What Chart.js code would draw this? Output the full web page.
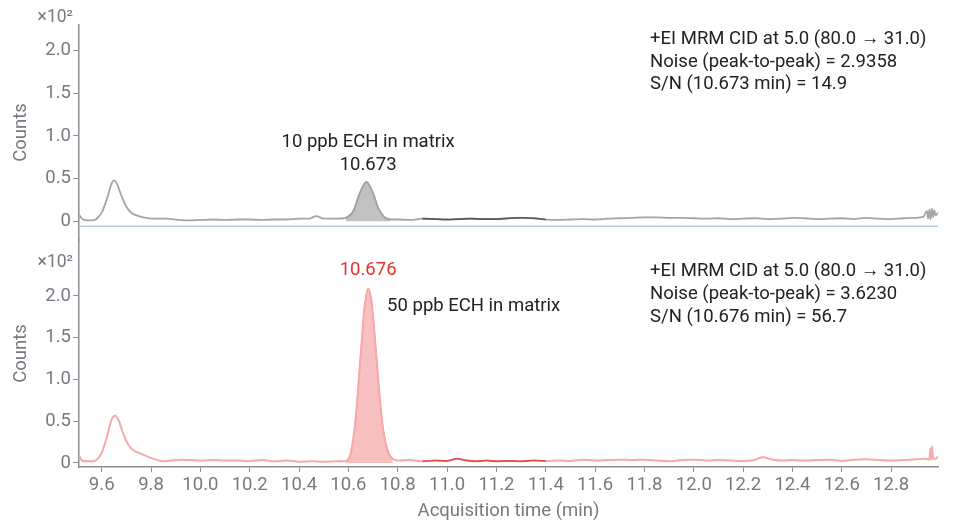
<!DOCTYPE html>
<html>
<head>
<meta charset="utf-8">
<script src="https://cdn.jsdelivr.net/npm/chart.js@4.4.1/dist/chart.umd.min.js"></script>
<style>
  html, body { margin: 0; padding: 0; background: #fff; }
  #wrap { position: relative; width: 953px; height: 525px; }
</style>
</head>
<body>
<div id="wrap"><canvas id="chrom" width="953" height="525"></canvas></div>
<script>
// acquisition time (min) and counts (x10^2), upper trace: 10 ppb ECH in matrix
const timesTop = [
  9.51, 9.52, 9.54, 9.56, 9.58, 9.60, 9.62, 9.64, 9.65, 9.66, 9.68, 9.70, 9.72, 9.75, 9.78,
  9.82, 9.86, 9.90, 9.95, 10.00, 10.05, 10.10, 10.15, 10.20, 10.25, 10.30, 10.35, 10.40, 10.44,
  10.47, 10.50, 10.55, 10.59, 10.62, 10.645, 10.673, 10.70, 10.72, 10.745, 10.77, 10.80, 10.85,
  10.90, 10.95, 11.00, 11.05, 11.10, 11.15, 11.20, 11.25, 11.30, 11.35, 11.40, 11.45, 11.50,
  11.55, 11.60, 11.65, 11.70, 11.75, 11.80, 11.85, 11.90, 11.95, 12.00, 12.05, 12.10, 12.15,
  12.20, 12.25, 12.30, 12.35, 12.40, 12.45, 12.50, 12.55, 12.60, 12.65, 12.70, 12.75, 12.80,
  12.85, 12.90, 12.93, 12.945, 12.95, 12.955, 12.96, 12.965, 12.97, 12.975, 12.98, 12.99
];
const countsTop = [
  0.07, 0.03, 0.01, 0.01, 0.03, 0.10, 0.25, 0.44, 0.48, 0.45, 0.30, 0.17, 0.10, 0.06, 0.04,
  0.03, 0.03, 0.02, 0.01, 0.015, 0.02, 0.015, 0.02, 0.02, 0.015, 0.02, 0.02, 0.03, 0.03,
  0.06, 0.03, 0.03, 0.04, 0.12, 0.32, 0.46, 0.33, 0.16, 0.05, 0.02, 0.02, 0.015,
  0.03, 0.025, 0.02, 0.025, 0.03, 0.025, 0.025, 0.035, 0.04, 0.035, 0.02, 0.015, 0.02,
  0.025, 0.02, 0.03, 0.035, 0.04, 0.045, 0.045, 0.04, 0.04, 0.035, 0.03, 0.035, 0.025,
  0.03, 0.035, 0.025, 0.03, 0.04, 0.035, 0.025, 0.03, 0.035, 0.025, 0.04, 0.03, 0.025,
  0.035, 0.04, 0.05, 0.12, 0.03, 0.14, 0.02, 0.15, 0.05, 0.13, 0.07, 0.10
];

// lower trace: 50 ppb ECH in matrix
const timesBot = [
  9.51, 9.52, 9.54, 9.56, 9.58, 9.60, 9.62, 9.64, 9.655, 9.67, 9.69, 9.71, 9.73, 9.76, 9.79,
  9.82, 9.85, 9.88, 9.92, 9.96, 10.00, 10.05, 10.10, 10.15, 10.20, 10.25, 10.30, 10.35, 10.40,
  10.45, 10.50, 10.55, 10.59, 10.61, 10.63, 10.65, 10.665, 10.68, 10.695, 10.71, 10.725, 10.74,
  10.76, 10.78, 10.80, 10.85, 10.90, 10.95, 11.00, 11.04, 11.08, 11.12, 11.16, 11.20, 11.25,
  11.30, 11.35, 11.40, 11.45, 11.50, 11.55, 11.60, 11.65, 11.70, 11.75, 11.80, 11.85, 11.90,
  11.95, 12.00, 12.05, 12.10, 12.15, 12.20, 12.25, 12.28, 12.32, 12.36, 12.40, 12.45, 12.50,
  12.55, 12.60, 12.65, 12.70, 12.75, 12.80, 12.85, 12.90, 12.94, 12.955, 12.96, 12.963, 12.966,
  12.97, 12.98, 12.99
];
const countsBot = [
  0.08, 0.03, 0.02, 0.02, 0.04, 0.12, 0.30, 0.52, 0.57, 0.50, 0.33, 0.21, 0.15, 0.11, 0.07,
  0.04, 0.02, 0.03, 0.04, 0.035, 0.03, 0.035, 0.03, 0.03, 0.025, 0.035, 0.02, 0.03, 0.015,
  0.02, 0.015, 0.02, 0.02, 0.12, 0.55, 1.30, 1.85, 2.09, 1.90, 1.40, 0.85, 0.42,
  0.14, 0.05, 0.03, 0.035, 0.02, 0.03, 0.025, 0.05, 0.03, 0.02, 0.03, 0.02, 0.025,
  0.02, 0.03, 0.025, 0.03, 0.025, 0.04, 0.03, 0.035, 0.04, 0.035, 0.04, 0.03, 0.02,
  0.035, 0.04, 0.03, 0.035, 0.03, 0.025, 0.04, 0.07, 0.04, 0.03, 0.035, 0.03, 0.035,
  0.04, 0.025, 0.04, 0.045, 0.035, 0.03, 0.035, 0.045, 0.05, 0.04, 0.18, 0.04, 0.20,
  0.05, 0.05, 0.08
];

const xTicks = [9.6, 9.8, 10.0, 10.2, 10.4, 10.6, 10.8, 11.0, 11.2, 11.4, 11.6, 11.8,
  12.0, 12.2, 12.4, 12.6, 12.8];
const yTicks = [0, 0.5, 1.0, 1.5, 2.0];
const yTickLabels = ["0", "0.5", "1.0", "1.5", "2.0"];

const peakTimes = [10.673, 10.676];
const peakWindow = [10.59, 10.78];
const noiseWindow = [10.9, 11.4];
const sampleNames = ["10 ppb ECH in matrix", "50 ppb ECH in matrix"];
const infoTop = ["+EI MRM CID at 5.0 (80.0 \u2192 31.0)", "Noise (peak-to-peak) = 2.9358",
  "S/N (10.673 min) = 14.9"];
const infoBot = ["+EI MRM CID at 5.0 (80.0 \u2192 31.0)", "Noise (peak-to-peak) = 3.6230",
  "S/N (10.676 min) = 56.7"];
const baselineTop = -0.06;

const TICK_COLOR = "#767a80";
const AXIS_COLOR = "#8a8e94";
const FONT_SIZE = 18.5;

function toPoints(times, vals, lo, hi) {
  const pts = [];
  for (let i = 0; i < times.length; i++) {
    if (lo === undefined || (times[i] >= lo && times[i] <= hi)) {
      pts.push({ x: times[i], y: vals[i] });
    }
  }
  return pts;
}

function yAxis(min, max, weight) {
  return {
    type: "linear",
    position: "left",
    stack: "panels",
    stackWeight: weight,
    min: min,
    max: max,
    afterFit: function (scale) { scale.width = 79; },
    afterBuildTicks: function (scale) {
      scale.ticks = yTicks.map(function (v) { return { value: v }; });
    },
    ticks: {
      color: TICK_COLOR,
      font: { family: "Roboto", size: FONT_SIZE },
      padding: 2,
      callback: function (value) {
        const i = yTicks.indexOf(value);
        return i >= 0 ? yTickLabels[i] : "";
      },
    },
    grid: {
      drawOnChartArea: false,
      drawTicks: true,
      tickLength: 6,
      color: AXIS_COLOR,
    },
    border: { color: AXIS_COLOR, width: 1.5 },
    title: {
      display: true,
      text: "Counts",
      color: TICK_COLOR,
      font: { family: "Roboto", size: FONT_SIZE },
      padding: { top: 10, bottom: 0 },
    },
  };
}

// text labels drawn on top of the traces
const labelPlugin = {
  id: "chromLabels",
  afterDatasetsDraw: function (chart) {
    const ctx = chart.ctx;
    const x = chart.scales.x;
    const yT = chart.scales.yTop;
    const yB = chart.scales.yBot;
    ctx.save();
    ctx.textBaseline = "middle";

    // exponent labels
    ctx.fillStyle = TICK_COLOR;
    ctx.textAlign = "right";
    ctx.font = "17.5px Roboto";
    ctx.fillText("\u00d710\u00b2", 73, yT.top - 7);
    ctx.fillText("\u00d710\u00b2", 73, yB.getPixelForValue(2.4));

    // acquisition info blocks
    ctx.fillStyle = "#222";
    ctx.textAlign = "left";
    ctx.font = FONT_SIZE + "px Roboto";
    const infoX = x.getPixelForValue(11.823);
    infoTop.forEach(function (t, i) {
      ctx.fillText(t, infoX, yT.getPixelForValue(2.13) + i * 22.5);
    });
    infoBot.forEach(function (t, i) {
      ctx.fillText(t, infoX, yB.getPixelForValue(2.29) + i * 23);
    });

    // peak labels
    ctx.textAlign = "center";
    ctx.fillText(sampleNames[0], x.getPixelForValue(10.68), yT.getPixelForValue(0.93));
    ctx.fillText(peakTimes[0].toFixed(3), x.getPixelForValue(10.68), yT.getPixelForValue(0.65));
    ctx.fillStyle = "#e8312f";
    ctx.fillText(peakTimes[1].toFixed(3), x.getPixelForValue(10.68), yB.getPixelForValue(2.31));
    ctx.fillStyle = "#222";
    ctx.textAlign = "left";
    ctx.fillText(sampleNames[1], x.getPixelForValue(10.757), yB.getPixelForValue(1.87));
    ctx.restore();
  },
};

const lineBase = {
  pointRadius: 0,
  cubicInterpolationMode: "monotone",
  fill: false,
};

new Chart(document.getElementById("chrom"), {
  type: "line",
  data: {
    datasets: [
      Object.assign({}, lineBase, {
        label: "noise top",
        data: toPoints(timesTop, countsTop, noiseWindow[0], noiseWindow[1]),
        borderColor: "#55575a",
        borderWidth: 1.6,
        yAxisID: "yTop",
        order: 0,
      }),
      Object.assign({}, lineBase, {
        label: "peak top",
        data: toPoints(timesTop, countsTop, peakWindow[0], peakWindow[1]),
        borderColor: "#727476",
        backgroundColor: "rgba(150,152,155,0.6)",
        borderWidth: 1.2,
        fill: "origin",
        yAxisID: "yTop",
        order: 2,
      }),
      Object.assign({}, lineBase, {
        label: sampleNames[0],
        data: toPoints(timesTop, countsTop),
        borderColor: "#a3a5a8",
        borderWidth: 1.8,
        yAxisID: "yTop",
        order: 1,
      }),
      Object.assign({}, lineBase, {
        label: "baseline",
        data: [{ x: 9.508, y: baselineTop }, { x: 12.99, y: baselineTop }],
        borderColor: "#b4c9ea",
        borderWidth: 1.5,
        cubicInterpolationMode: "default",
        tension: 0,
        yAxisID: "yTop",
        order: 3,
      }),
      Object.assign({}, lineBase, {
        label: "noise bottom",
        data: toPoints(timesBot, countsBot, noiseWindow[0], noiseWindow[1]),
        borderColor: "#e6474a",
        borderWidth: 1.6,
        yAxisID: "yBot",
        order: 0,
      }),
      Object.assign({}, lineBase, {
        label: "peak bottom",
        data: toPoints(timesBot, countsBot, peakWindow[0], peakWindow[1]),
        borderColor: "#f07a7c",
        backgroundColor: "rgba(242,140,142,0.55)",
        borderWidth: 1.2,
        fill: "origin",
        yAxisID: "yBot",
        order: 2,
      }),
      Object.assign({}, lineBase, {
        label: sampleNames[1],
        data: toPoints(timesBot, countsBot),
        borderColor: "#f7a9ab",
        borderWidth: 2,
        yAxisID: "yBot",
        order: 1,
      }),
    ],
  },
  options: {
    responsive: false,
    animation: false,
    events: [],
    layout: { padding: { top: 25, right: 15, bottom: 0, left: 0 } },
    plugins: {
      legend: { display: false },
      tooltip: { enabled: false },
    },
    scales: {
      x: {
        type: "linear",
        position: "bottom",
        min: 9.508,
        max: 12.99,
        afterFit: function (scale) { scale.height = 58; },
        afterBuildTicks: function (scale) {
          scale.ticks = xTicks.map(function (v) { return { value: v }; });
        },
        ticks: {
          color: TICK_COLOR,
          font: { family: "Roboto", size: FONT_SIZE },
          padding: 2,
          maxRotation: 0,
          autoSkip: false,
          callback: function (value) { return value.toFixed(1); },
        },
        grid: {
          drawOnChartArea: false,
          drawTicks: true,
          tickLength: 5,
          color: AXIS_COLOR,
        },
        border: { color: AXIS_COLOR, width: 1.5 },
        title: {
          display: true,
          text: "Acquisition time (min)",
          color: TICK_COLOR,
          font: { family: "Roboto", size: FONT_SIZE },
          padding: { top: 2, bottom: 3 },
        },
      },
      yBot: yAxis(-0.048, 2.67, 227),
      yTop: yAxis(-0.22, 2.3, 215),
    },
  },
  plugins: [labelPlugin],
});
</script>
</body>
</html>
